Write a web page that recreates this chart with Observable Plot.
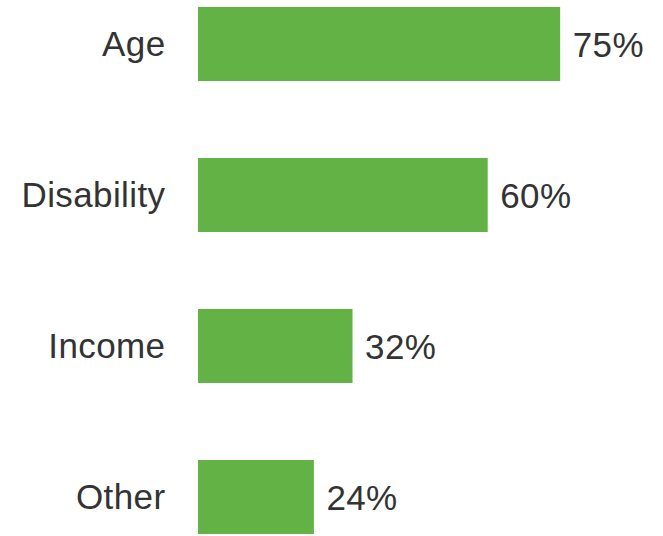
<!DOCTYPE html>
<html>
<head>
<meta charset="utf-8">
<script src="https://cdn.jsdelivr.net/npm/d3@7"></script>
<script src="https://cdn.jsdelivr.net/npm/@observablehq/plot@0.6"></script>
<style>
  html, body { margin: 0; padding: 0; background: #fff; }
  svg { display: block; }
  svg text { letter-spacing: 0.4px; font-family: "Liberation Sans", Arial, Helvetica, sans-serif; }
</style>
</head>
<body>
<div id="chart"></div>
<script>
const categories = ["Age", "Disability", "Income", "Other"];
const values = [75, 60, 32, 24];
const valueLabels = ["75%", "60%", "32%", "24%"];

const data = categories.map((c, i) => ({category: c, value: values[i], label: valueLabels[i]}));

const chart = Plot.plot({
  width: 663,
  height: 536,
  marginLeft: 198,
  marginRight: 0,
  marginTop: 6,
  marginBottom: 0,
  style: {fontFamily: "Liberation Sans, Arial, sans-serif", color: "#333", background: "#fff"},
  x: {domain: [0, 96.3], axis: null},
  y: {domain: categories, paddingInner: 0.507, paddingOuter: 0, label: null},
  marks: [
    Plot.barX(data, {x: "value", y: "category", fill: "#62b246"}),
    Plot.text(data, {x: "value", y: "category", text: "label", textAnchor: "start", dx: 12, dy: 1, fontSize: 35, fill: "#333"}),
    Plot.axisY({tickSize: 0, tickPadding: 33, fontSize: 35, label: null, fill: "#333"})
  ]
});
document.getElementById("chart").appendChild(chart);
</script>
</body>
</html>
